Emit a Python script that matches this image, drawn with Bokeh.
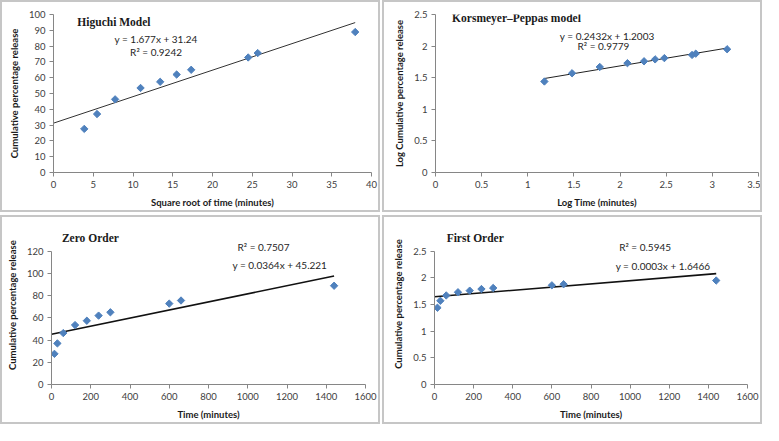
from bokeh.plotting import figure
from bokeh.layouts import row, column
from bokeh.models import Range1d, FixedTicker, NumeralTickFormatter, Label
from bokeh.embed import file_html
from bokeh.resources import INLINE

# ---------------- data ----------------
time_min = [15, 30, 60, 120, 180, 240, 300, 600, 660, 1440]
sqrt_time = [3.87, 5.48, 7.75, 10.95, 13.42, 15.49, 17.32, 24.49, 25.69, 37.95]
log_time = [1.18, 1.48, 1.78, 2.08, 2.26, 2.38, 2.48, 2.78, 2.82, 3.16]
cum_release = [27.6, 37.0, 46.3, 53.5, 57.4, 62.0, 65.0, 72.8, 75.6, 88.9]
log_cum_release = [1.44, 1.57, 1.67, 1.73, 1.76, 1.79, 1.81, 1.86, 1.88, 1.95]

# trend lines (slope, intercept, R2) as printed on the chart
higuchi_fit = (1.677, 31.24, "0.9242")
kp_fit = (0.2432, 1.2003, "0.9779")
zero_fit = (0.0364, 45.221, "0.7507")
first_fit = (0.0003, 1.6466, "0.5945")

# axis ticks
higuchi_xticks = [0, 5, 10, 15, 20, 25, 30, 35, 40]
higuchi_yticks = [0, 10, 20, 30, 40, 50, 60, 70, 80, 90, 100]
kp_xticks = [0, 0.5, 1, 1.5, 2, 2.5, 3, 3.5]
kp_yticks = [0, 0.5, 1, 1.5, 2, 2.5]
time_ticks = [0, 200, 400, 600, 800, 1000, 1200, 1400, 1600]
zero_yticks = [0, 20, 40, 60, 80, 100, 120]
first_yticks = [0, 0.5, 1, 1.5, 2, 2.5]

MARKER = "#4F81BD"
TICK_FONT = "Lato"
AXIS_GRAY = "#868686"
BORDER = 2


def make_fig(w, h, xr, yr, xt, yt, xlabel, ylabel, bl, bb, br, bt, ybounds=None):
    p = figure(width=w, height=h, title=None,
               output_backend="svg", toolbar_location=None,
               x_range=Range1d(*xr), y_range=Range1d(*yr),
               min_border_left=bl, min_border_right=br,
               min_border_top=bt, min_border_bottom=bb)
    p.styles = {"border": f"{BORDER}px solid #c6c6c6"}
    p.grid.visible = False
    p.outline_line_color = None
    p.background_fill_color = "white"
    p.border_fill_color = "white"
    p.xaxis.ticker = FixedTicker(ticks=xt)
    p.yaxis.ticker = FixedTicker(ticks=yt)
    if ybounds is not None:
        p.yaxis.bounds = ybounds
        try:
            p.yaxis.axis_label_align = "left"
        except Exception:
            pass
    for ax in (p.xaxis, p.yaxis):
        ax.formatter = NumeralTickFormatter(format="0.[0]")
        ax.axis_line_color = AXIS_GRAY
        ax.major_tick_line_color = AXIS_GRAY
        ax.major_tick_out = 4
        ax.major_tick_in = 0
        ax.minor_tick_line_color = None
        ax.major_label_text_font = TICK_FONT
        ax.major_label_text_font_size = "9.5px"
        ax.major_label_text_color = "#404040"
        ax.major_label_standoff = 4
        ax.axis_label_text_font = TICK_FONT
        ax.axis_label_text_font_style = "bold"
        ax.axis_label_text_font_size = "9.5px"
        ax.axis_label_text_color = "#1a1a1a"
        ax.axis_label_standoff = 6
    p.xaxis.axis_label = xlabel
    p.yaxis.axis_label = ylabel
    return p


def add_title(p, text, x, y):
    p.add_layout(Label(x=x, y=y, text=text, text_font="Liberation Serif",
                       text_font_style="bold", text_font_size="11.5px",
                       text_baseline="middle", text_align="left",
                       text_color="#1a1a1a"))


def add_text(p, text, x, y, align):
    p.add_layout(Label(x=x, y=y, text=text, text_font=TICK_FONT,
                       text_font_size="10px", text_baseline="middle",
                       text_align=align, text_color="#262626"))


def scatter_and_fit(p, xs, ys, fit, x0, lw, color):
    m, b, _ = fit
    x1 = max(xs)
    p.line([x0, x1], [m * x0 + b, m * x1 + b], line_color=color, line_width=lw)
    p.scatter(xs, ys, marker="square", angle=0.785398, size=5.2,
              fill_color=MARKER, line_color=MARKER)


# ---- Higuchi ----  (canvas 376 x 208 inside a 2px border)
p1 = make_fig(380, 212, (0, 40), (0, 100), higuchi_xticks, higuchi_yticks,
              "Square root of time (minutes)", "Cumulative percentage release",
              51, 42, 11, 10)
scatter_and_fit(p1, sqrt_time, cum_release, higuchi_fit, 0, 1, "#333333")
add_title(p1, "Higuchi Model", 3, 95)
add_text(p1, f"y = {higuchi_fit[0]}x + {higuchi_fit[1]}", 12.9, 84.6, "center")
add_text(p1, f"R\u00b2 = {higuchi_fit[2]}", 12.9, 76.4, "center")

# ---- Korsmeyer-Peppas ----
p2 = make_fig(380, 212, (0, 3.5), (0, 2.5), kp_xticks, kp_yticks,
              "Log Time (minutes)", "Log Cumulative percentage release",
              51, 38, 6, 12)
scatter_and_fit(p2, log_time, log_cum_release, kp_fit, min(log_time), 1, "#222222")
add_title(p2, "Korsmeyer\u2013Peppas model", 0.18, 2.44)
add_text(p2, f"y = {kp_fit[0]}x + {kp_fit[1]}", 1.86, 2.165, "center")
add_text(p2, f"R\u00b2 = {kp_fit[2]}", 1.82, 1.995, "center")

# ---- bottom panels: frame extends above the axis so titles fit inside it ----
bot_h = 209
bot_top, bot_bottom = 6, 42
frame_h = bot_h - 2 * BORDER - bot_top - bot_bottom   # 157
axis_px = 130
scale_up = frame_h / axis_px

# ---- Zero order ----
p3 = make_fig(380, bot_h, (0, 1600), (0, zero_yticks[-1] * scale_up), time_ticks, zero_yticks,
              "Time (minutes)", "Cumulative  percentage release",
              49, bot_bottom, 17, bot_top, ybounds=(0, zero_yticks[-1]))
scatter_and_fit(p3, time_min, cum_release, zero_fit, 0, 1.6, "#111111")
add_title(p3, "Zero Order", 53, 131.6)
add_text(p3, f"R\u00b2 = {zero_fit[2]}", 948, 123.4, "left")
add_text(p3, f"y = {zero_fit[0]}x + {zero_fit[1]}", 922, 107.5, "left")

# ---- First order ----
p4 = make_fig(380, bot_h, (0, 1600), (0, first_yticks[-1] * scale_up), time_ticks, first_yticks,
              "Time (minutes)", "Cumulative percentage release",
              50, bot_bottom, 17, bot_top, ybounds=(0, first_yticks[-1]))
scatter_and_fit(p4, time_min, log_cum_release, first_fit, 0, 1.6, "#111111")
add_title(p4, "First Order", 62, 2.742)
add_text(p4, f"R\u00b2 = {first_fit[2]}", 944, 2.571, "left")
add_text(p4, f"y = {first_fit[0]}x + {first_fit[1]}", 926, 2.219, "left")

layout = column(row(p1, p2, spacing=2), row(p3, p4, spacing=2), spacing=3)

open("out.html", "w").write(file_html(layout, INLINE))
